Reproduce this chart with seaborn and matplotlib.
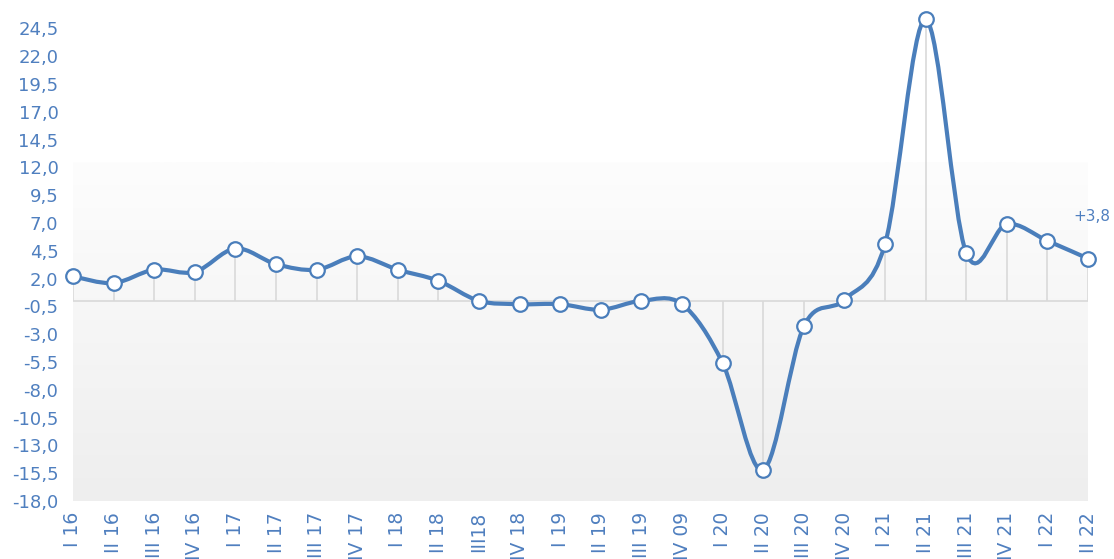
import numpy as np
import pandas as pd
import matplotlib
matplotlib.use("Agg")
import matplotlib.pyplot as plt
from matplotlib.path import Path
from matplotlib.patches import PathPatch
from matplotlib.colors import LinearSegmentedColormap
import seaborn as sns

quarters = ["I 16", "II 16", "III 16", "IV 16", "I 17", "II 17", "III 17", "IV 17",
            "I 18", "II 18", "III18", "IV 18", "I 19", "II 19", "III 19", "IV 09",
            "I 20", "II 20", "III 20", "IV 20", "I 21", "II 21", "III 21", "IV 21",
            "I 22", "II 22"]
values = [2.2, 1.6, 2.8, 2.6, 4.7, 3.3, 2.8, 4.0,
          2.8, 1.8, 0.0, -0.3, -0.3, -0.8, 0.0, -0.3,
          -5.6, -15.2, -2.3, 0.1, 5.1, 25.3, 4.3, 6.9,
          5.4, 3.8]
y_ticks = [-18.0, -15.5, -13.0, -10.5, -8.0, -5.5, -3.0, -0.5, 2.0, 4.5, 7.0,
           9.5, 12.0, 14.5, 17.0, 19.5, 22.0, 24.5]
last_label = "+3,8"

BLUE = "#4a7ebb"
TXT = "#4f7fbf"

sns.set_theme(style="white")
plt.rcParams['font.family'] = ['DejaVu Sans']

df = pd.DataFrame({"pos": np.arange(len(values)), "val": values, "q": quarters})

fig = plt.figure(figsize=(11.14, 5.59), dpi=100)
ax = fig.add_axes([73 / 1114, 58 / 559, (1088 - 73) / 1114, 501 / 559])
ax.set_xlim(0, len(values) - 1)
ax.set_ylim(-18, 27.05)

# gradient plot-area background
grad = np.linspace(0.0, 1.0, 256).reshape(-1, 1)
cmap = LinearSegmentedColormap.from_list("bg", ["#eeeeee", "#fdfdfd"])
ax.imshow(grad, extent=[0, len(values) - 1, -18, 12.4], origin="lower",
          cmap=cmap, aspect="auto", zorder=0)

# baseline and drop lines
ax.axhline(0, color="#d9d9d9", lw=1.2, zorder=1)
ax.vlines(df["pos"], 0, df["val"], color="#d9d9d9", lw=1.2, zorder=1)

# smooth curve (Catmull-Rom style Bezier through data)
x = df["pos"].to_numpy(float)
y = df["val"].to_numpy(float)
px = np.concatenate([[x[0]], x, [x[-1]]])
py = np.concatenate([[y[0]], y, [y[-1]]])
verts = [(x[0], y[0])]
codes = [Path.MOVETO]
for i in range(1, len(px) - 2):
    c1 = (px[i] + (px[i + 1] - px[i - 1]) / 6, py[i] + (py[i + 1] - py[i - 1]) / 6)
    c2 = (px[i + 1] - (px[i + 2] - px[i]) / 6, py[i + 1] - (py[i + 2] - py[i]) / 6)
    verts += [c1, c2, (px[i + 1], py[i + 1])]
    codes += [Path.CURVE4] * 3
ax.add_patch(PathPatch(Path(verts, codes), fill=False, edgecolor=BLUE, lw=3.0,
                       zorder=3, capstyle="round", joinstyle="round", clip_on=False))

sns.scatterplot(data=df, x="pos", y="val", ax=ax, s=110, color="white",
                edgecolor=BLUE, linewidth=1.6, zorder=4, clip_on=False, legend=False)

ax.annotate(last_label, (x[-1], y[-1]), xytext=(3, 30), textcoords="offset points",
            ha="center", va="center", color=TXT, fontsize=11)

ax.set_yticks(y_ticks)
ax.set_yticklabels([f"{v:.1f}".replace(".", ",") for v in y_ticks], color=TXT, fontsize=13)
ax.set_xticks(df["pos"])
ax.set_xticklabels(quarters, rotation=90, color=TXT, fontsize=13.5, va="top", ha="center")
ax.tick_params(axis="y", length=0, pad=10.5)
ax.tick_params(axis="x", length=0, pad=8)
ax.set_xlabel("")
ax.set_ylabel("")
for s in ax.spines.values():
    s.set_visible(False)
ax.grid(False)

fig.savefig("out.png", dpi=100)
